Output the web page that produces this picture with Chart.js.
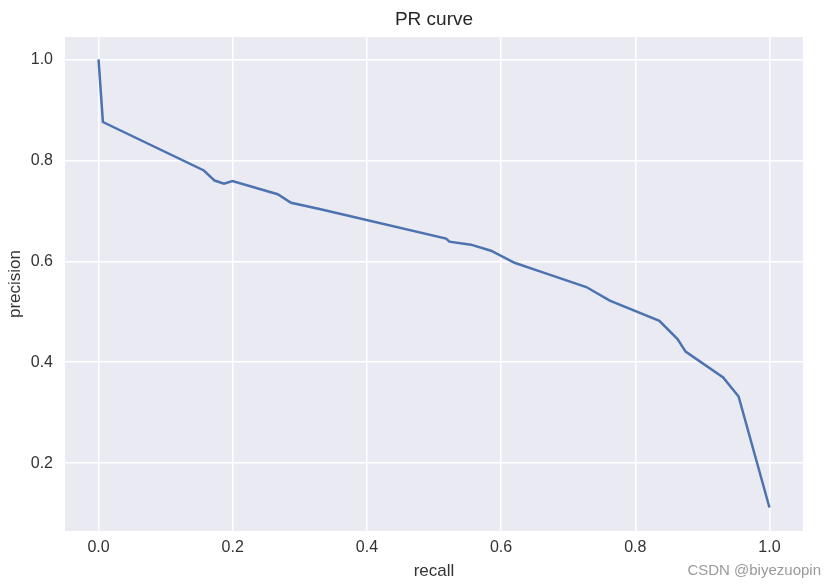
<!DOCTYPE html>
<html>
<head>
<meta charset="utf-8">
<script src="https://cdn.jsdelivr.net/npm/chart.js@4.4.0/dist/chart.umd.min.js"></script>
<style>
    html, body { margin: 0; padding: 0; background: #ffffff; }
    #wrap { position: relative; width: 835px; height: 587px; }
    #mark {
        position: absolute; right: 14px; bottom: 9px;
        font-family: "Liberation Sans", Arial, sans-serif; font-size: 15px; color: #9a9a9a;
    }
</style>
</head>
<body>
<div id="wrap">
    <canvas id="chartCanvas" width="835" height="587"></canvas>
    <div id="mark">CSDN @biyezuopin</div>
</div>
<script>
// values
const recall = [0.0, 0.0065, 0.157, 0.173, 0.187, 0.1995, 0.267, 0.287, 0.331, 0.518, 0.523,
    0.555, 0.585, 0.620, 0.660, 0.727, 0.762, 0.836, 0.863, 0.875, 0.931, 0.954, 1.0];
const precision = [1.0, 0.876, 0.780, 0.760, 0.754, 0.759, 0.733, 0.716, 0.703, 0.645, 0.639,
    0.633, 0.621, 0.597, 0.579, 0.549, 0.522, 0.482, 0.446, 0.421, 0.370, 0.332, 0.112];
const xTicks = [0.0, 0.2, 0.4, 0.6, 0.8, 1.0];
const yTicks = [0.2, 0.4, 0.6, 0.8, 1.0];
const chartTitle = 'PR curve';

const textColor = '#333333';
const fontName = '"Liberation Sans", Arial, sans-serif';

// seaborn-like grey plot background
const plotBackground = {
    id: 'plotBackground',
    beforeDraw(chart) {
        const {ctx, chartArea} = chart;
        ctx.save();
        ctx.fillStyle = '#EAEAF2';
        ctx.fillRect(chartArea.left, chartArea.top, chartArea.right - chartArea.left, chartArea.bottom - chartArea.top);
        ctx.restore();
    }
};

// title centred over the plot area (like matplotlib), not the whole canvas
const axesTitle = {
    id: 'axesTitle',
    afterDraw(chart) {
        const {ctx, chartArea} = chart;
        ctx.save();
        ctx.fillStyle = '#262626';
        ctx.font = '19px ' + fontName;
        ctx.textAlign = 'center';
        ctx.textBaseline = 'middle';
        ctx.fillText(chartTitle, (chartArea.left + chartArea.right) / 2, chartArea.top / 2 + 1);
        ctx.restore();
    }
};

const points = recall.map((r, i) => ({x: r, y: precision[i]}));

new Chart(document.getElementById('chartCanvas'), {
    type: 'scatter',
    data: {
        datasets: [{
            data: points,
            showLine: true,
            borderColor: '#4C72B0',
            backgroundColor: '#4C72B0',
            borderWidth: 2.5,
            pointRadius: 0,
            tension: 0
        }]
    },
    options: {
        responsive: false,
        animation: false,
        layout: {padding: {top: 37, left: 0, right: 32, bottom: 0}},
        plugins: {
            legend: {display: false},
            tooltip: {enabled: false},
            title: {display: false}
        },
        scales: {
            x: {
                type: 'linear',
                min: -0.05,
                max: 1.05,
                afterBuildTicks: (scale) => { scale.ticks = xTicks.map(v => ({value: v})); },
                afterFit: (scale) => { scale.height = 56; },
                grid: {color: '#ffffff', lineWidth: 1.5, drawTicks: false},
                border: {display: false},
                ticks: {
                    color: textColor,
                    font: {family: fontName, size: 16},
                    padding: 7,
                    callback: (v) => v.toFixed(1)
                },
                title: {
                    display: true,
                    text: 'recall',
                    color: textColor,
                    font: {family: fontName, size: 17},
                    padding: {top: 0, bottom: 5}
                }
            },
            y: {
                type: 'linear',
                min: 0.0655,
                max: 1.0445,
                afterBuildTicks: (scale) => { scale.ticks = yTicks.map(v => ({value: v})); },
                afterFit: (scale) => { scale.width = 65; },
                grid: {color: '#ffffff', lineWidth: 1.5, drawTicks: false},
                border: {display: false},
                ticks: {
                    color: textColor,
                    font: {family: fontName, size: 16},
                    padding: 12,
                    callback: (v) => v.toFixed(1)
                },
                title: {
                    display: true,
                    text: 'precision',
                    color: textColor,
                    font: {family: fontName, size: 17},
                    padding: {top: 5, bottom: 0}
                }
            }
        }
    },
    plugins: [plotBackground, axesTitle]
});
</script>
</body>
</html>
